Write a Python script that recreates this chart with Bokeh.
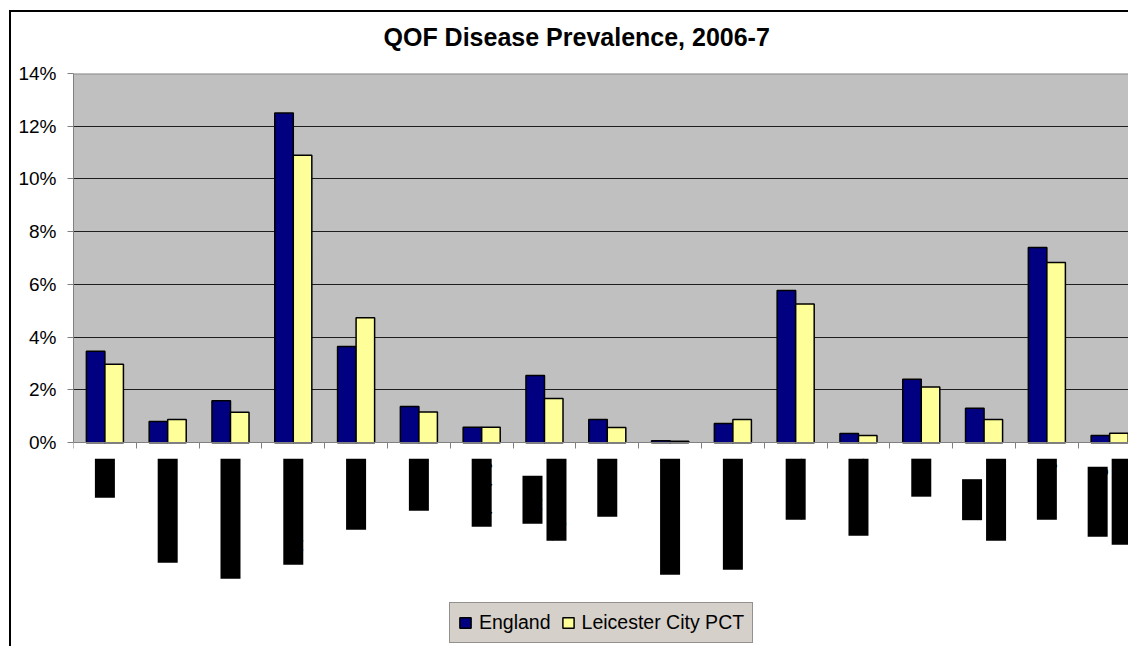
from math import pi
from bokeh.plotting import figure
from bokeh.models import (ColumnDataSource, Range1d, LinearAxis, FixedTicker,
                          NumeralTickFormatter, BoxAnnotation, Span, Label,
                          Legend, LegendItem)
from bokeh.transform import dodge
from bokeh.embed import file_html
from bokeh.resources import INLINE

# ---------------- data ----------------
categories = ["CHD", "Heart Failure", "Stroke and TIA", "Hypertension", "Diabetes",
              "COPD", "Epilepsy", "Hypo-\nthyroidism", "Cancer", "Palliative Care",
              "Mental Health", "Asthma", "Dementia", "CKD", "Atrial\nFibrillation",
              "Obesity", "Learning\nDisabilities"]
england = [3.47, 0.80, 1.59, 12.50, 3.65, 1.37, 0.59, 2.55, 0.88, 0.07,
           0.73, 5.77, 0.35, 2.41, 1.31, 7.40, 0.27]
leicester = [2.97, 0.88, 1.15, 10.90, 4.74, 1.16, 0.59, 1.68, 0.58, 0.05,
             0.88, 5.26, 0.27, 2.11, 0.88, 6.83, 0.36]
y_ticks = [0.00, 0.02, 0.04, 0.06, 0.08, 0.10, 0.12, 0.14]
series_names = ["England", "Leicester City PCT"]
title_text = "QOF Disease Prevalence, 2006-7"

FONT = "Liberation Sans"
LABEL_PX = 18
# Arial / Liberation Sans advance widths (per 1000 em), used to centre wrapped lines
ADV = {"H": 722, "y": 500, "p": 556, "o": 556, "-": 333, "t": 278, "h": 556,
       "r": 333, "i": 222, "d": 556, "s": 500, "m": 833, "A": 667, "l": 222,
       "a": 556, "F": 611, "b": 556, "n": 556, "L": 556, "e": 556, "g": 556,
       "D": 722, "c": 500}


def text_px(s):
    return sum(ADV.get(ch, 556) for ch in s) * LABEL_PX / 1000.0


n = len(categories)
src = ColumnDataSource(dict(
    x=[i + 0.5 for i in range(n)],
    eng=[v / 100 for v in england],
    lei=[v / 100 for v in leicester],
))

p = figure(width=1128, height=646, output_backend="svg", toolbar_location=None,
           x_range=Range1d(0, 16.80), y_range=Range1d(-0.07729, 0.14),
           x_axis_location=None, min_border_left=73, min_border_top=73,
           min_border_right=0, min_border_bottom=0,
           background_fill_color="white", border_fill_color=None,
           outline_line_color=None)
# outer chart-area border (left and top edges visible in the original crop)
p.styles = {
    "background-image": "linear-gradient(#000, #000), linear-gradient(#000, #000)",
    "background-position": "9px 10px, 9px 10px",
    "background-size": "2px 100%, 100% 2px",
    "background-repeat": "no-repeat, no-repeat",
}

p.title.text = title_text
p.title.text_font = FONT
p.title.text_font_size = "25px"
p.title.text_font_style = "bold"
p.title.text_color = "black"
p.title.align = "left"
p.title.vertical_align = "top"
p.title.offset = 310
p.title.standoff = 42

# grey plot area (0 .. 14%)
p.add_layout(BoxAnnotation(bottom=y_ticks[0], top=y_ticks[-1], fill_color="#C0C0C0",
                           fill_alpha=1, line_alpha=0, level="image"))

# y axis
ya = p.yaxis[0]
ya.ticker = FixedTicker(ticks=y_ticks)
ya.bounds = (y_ticks[0], y_ticks[-1])
ya.formatter = NumeralTickFormatter(format="0%")
ya.major_label_text_font = FONT
ya.major_label_text_font_size = "19px"
ya.major_label_text_color = "black"
ya.major_tick_out = 6
ya.major_tick_in = 0
ya.minor_tick_line_color = None
ya.axis_line_color = "#808080"
ya.major_tick_line_color = "#808080"
ya.major_label_standoff = 11

p.ygrid.ticker = FixedTicker(ticks=y_ticks[1:-1])
p.ygrid.grid_line_color = "#1E1E1E"
p.ygrid.grid_line_width = 1
p.xgrid.grid_line_color = None
p.add_layout(Span(location=y_ticks[-1], dimension="width", line_color="#8C8C8C",
                  line_width=2))

# x axis at 0 with tick marks between categories (no tick labels)
xa = LinearAxis(fixed_location=0,
                ticker=FixedTicker(ticks=[], minor_ticks=list(range(n + 1))),
                minor_tick_out=6, minor_tick_in=0, major_tick_line_color=None,
                axis_line_color="#808080", minor_tick_line_color="#808080")
p.add_layout(xa, "below")

# bars
r_eng = p.vbar(x=dodge("x", -0.1475, range=p.x_range), top="eng", width=0.295,
               source=src, fill_color="#000080", line_color="black", line_width=1.5)
r_lei = p.vbar(x=dodge("x", 0.1475, range=p.x_range), top="lei", width=0.295,
               source=src, fill_color="#FFFF99", line_color="black", line_width=1.5)

# category labels (rendered as solid black blocks, as in the original);
# wrapped lines are centred on each other like Excel does
for i, cat in enumerate(categories):
    lines = cat.split("\n")
    k = len(lines)
    longest = max(text_px(s) for s in lines)
    for j, line in enumerate(lines):
        shift = (longest - text_px(line)) / 2.0
        p.add_layout(Label(x=i + 0.5, y=0, x_offset=(j - (k - 1) / 2) * 24,
                           y_offset=-16 - shift,
                           text=line, angle=pi / 2, text_align="right",
                           text_baseline="middle", text_font=FONT,
                           text_font_size=f"{LABEL_PX}px", text_color="black",
                           background_fill_color="black", background_fill_alpha=1))

legend = Legend(items=[LegendItem(label=series_names[0], renderers=[r_eng]),
                       LegendItem(label=series_names[1], renderers=[r_lei])],
                orientation="horizontal", location=(376, 3),
                background_fill_color="#D6D0CA", background_fill_alpha=1,
                border_line_color="#505050", border_line_width=1,
                label_text_font=FONT, label_text_font_size="19.5px",
                label_text_color="black", glyph_width=14, glyph_height=13,
                label_standoff=7, spacing=10, padding=8, margin=0)
p.add_layout(legend, "center")

open("out.html", "w").write(file_html(p, INLINE))
